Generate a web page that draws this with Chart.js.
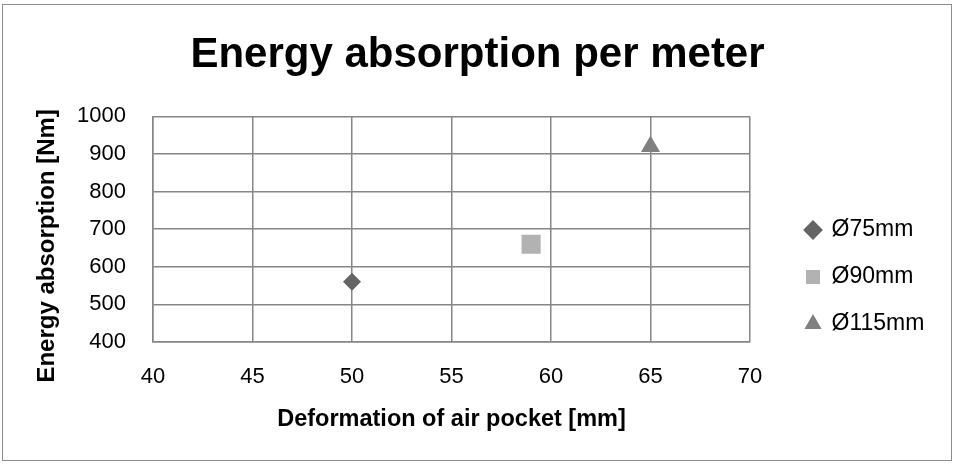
<!DOCTYPE html>
<html>
<head>
<meta charset="utf-8">
<script src="https://cdn.jsdelivr.net/npm/chart.js@4.4.1/dist/chart.umd.min.js"></script>
<style>
  html, body { margin: 0; padding: 0; background: #fff; }
  #wrap { position: relative; width: 955px; height: 466px; }
  #frame { position: absolute; left: 2px; top: 4px; width: 950px; height: 457px; border: 1px solid #8c8c8c; box-sizing: border-box; pointer-events: none; }
  canvas { position: absolute; left: 0; top: 0; }
</style>
</head>
<body>
<div id="wrap">
  <canvas id="c" width="955" height="466"></canvas>
  <div id="frame"></div>
</div>
<script>
// ---- data ----
const seriesNames = ['Ø75mm', 'Ø90mm', 'Ø115mm'];
const deformation = [50, 59, 65];          // x values [mm]
const energy = [560, 660, 920];            // y values [Nm]
const xTicks = [40, 45, 50, 55, 60, 65, 70];
const yTicks = [400, 500, 600, 700, 800, 900, 1000];

const titleText = 'Energy absorption per meter';
const xTitle = 'Deformation of air pocket [mm]';
const yTitle = 'Energy absorption [Nm]';

// ---- styles ----
const markerStyles = ['rectRot', 'rect', 'triangle'];
const markerColors = ['#646464', '#b2b2b2', '#808080'];
const markerRadius = [9, 13.5, 11];
const gridColor = '#868686';
const FONT = "'Liberation Sans', Arial, sans-serif";

const datasets = seriesNames.map((name, i) => ({
  label: name,
  data: [{ x: deformation[i], y: energy[i] }],
  pointStyle: markerStyles[i],
  backgroundColor: markerColors[i],
  borderColor: markerColors[i],
  borderWidth: 0,
  pointRadius: markerRadius[i],
  pointHoverRadius: markerRadius[i],
  showLine: false
}));

const layoutFix = {
  id: 'layoutFix',
  beforeUpdate(chart) {
    const lg = chart.legend;
    if (lg && !lg._patched) {
      const fit = lg.fit.bind(lg);
      lg.fit = function () { fit(); this.width = 205; };
      lg._patched = true;
    }
  },
  afterLayout(chart) {
    const lg = chart.legend;
    if (!lg) return;
    lg.left = 782; lg.right = 955;
    lg.top = 194.5; lg.bottom = 466;
  }
};

new Chart(document.getElementById('c'), {
  type: 'scatter',
  data: { datasets },
  plugins: [layoutFix],
  options: {
    responsive: false,
    animation: false,
    events: [],
    color: '#000',
    layout: { padding: 0 },
    plugins: {
      title: {
        display: true,
        text: titleText,
        color: '#000',
        font: { family: FONT, size: 42, weight: 'bold' },
        padding: { top: 30, bottom: 36 }
      },
      legend: {
        display: true,
        position: 'right',
        align: 'start',
        labels: {
          usePointStyle: true,
          boxWidth: 14,
          boxHeight: 14,
          padding: 24,
          color: '#000',
          font: { family: FONT, size: 23 }
        }
      },
      tooltip: { enabled: false }
    },
    scales: {
      x: {
        type: 'linear',
        min: xTicks[0],
        max: xTicks[xTicks.length - 1],
        afterBuildTicks(scale) { scale.ticks = xTicks.map(v => ({ value: v })); },
        afterFit(scale) { scale.height = 466 - 342; },
        grid: { color: gridColor, lineWidth: 1.5, drawTicks: false },
        border: { color: gridColor, width: 1.5 },
        ticks: { color: '#000', padding: 22, font: { family: FONT, size: 22 }, callback: v => String(v) },
        title: {
          display: true, text: xTitle, color: '#000',
          font: { family: FONT, size: 23.5, weight: 'bold' },
          padding: { top: 0, bottom: 32 }
        }
      },
      y: {
        type: 'linear',
        min: yTicks[0],
        max: yTicks[yTicks.length - 1],
        afterBuildTicks(scale) { scale.ticks = yTicks.map(v => ({ value: v })); },
        afterFit(scale) { scale.width = 153; },
        grid: { color: gridColor, lineWidth: 1.5, drawTicks: false },
        border: { color: gridColor, width: 1.5 },
        ticks: { color: '#000', padding: 27, font: { family: FONT, size: 22 }, callback: v => String(v) },
        title: {
          display: true, text: yTitle + '\u00a0\u00a0\u00a0\u00a0\u00a0', color: '#000',
          font: { family: FONT, size: 24, weight: 'bold' },
          padding: { top: 33, bottom: 0 }
        }
      }
    }
  }
});
</script>
</body>
</html>
